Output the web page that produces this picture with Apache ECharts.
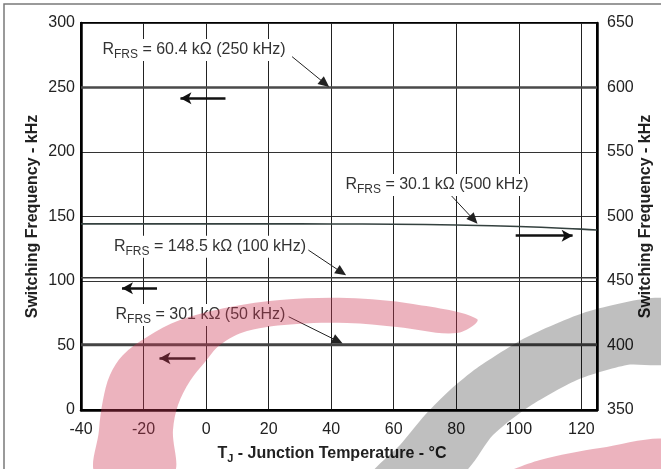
<!DOCTYPE html>
<html><head><meta charset="utf-8">
<script src="https://cdn.jsdelivr.net/npm/echarts@6/dist/echarts.min.js"></script>
<style>html,body{margin:0;padding:0;background:#fff}#c{width:661px;height:469px}</style>
</head><body><div id="c"></div>
<script>
// ---- data ----
const temperatures = [-40, -20, 0, 20, 40, 60, 80, 100, 120, 125];
const freq250 = [250, 250, 250, 250, 250, 250, 250, 250, 250, 250];      // left axis
const freq500 = [494.3, 494.3, 494.3, 494.3, 494.2, 494.0, 493.4, 492.2, 490.2, 489.5]; // right axis
const freq100 = [102.6, 102.6, 102.6, 102.6, 102.6, 102.6, 102.6, 102.6, 102.6, 102.6]; // left axis
const freq50  = [50.6, 50.6, 50.6, 50.6, 50.6, 50.6, 50.6, 50.6, 50.6, 50.6];          // left axis
const xTickLabels = [-40, -20, 0, 20, 40, 60, 80, 100, 120];
const leftTickLabels = [0, 50, 100, 150, 200, 250, 300];
const rightTickLabels = [350, 400, 450, 500, 550, 600, 650];

// annotation labels (data coords on left axis), leader start and arrow-head point
const annoText = ['60.4 kΩ (250 kHz)', '30.1 kΩ (500 kHz)', '148.5 kΩ (100 kHz)', '301 kΩ (50 kHz)'];
const annoPos  = [[-33.8, 279], [43.9, 174.4], [-30.1, 126.6], [-29.6, 73.6]];
const leaderFrom = [[27.5, 273.9], [78.2, 166.7], [32.7, 124.0], [26.4, 72.3]];
const leaderTo   = [[38.0, 253.1], [85.6, 147.5], [43.3, 106.8], [42.1, 53.4]];
// axis-direction arrows (left-axis coords)
const dirFrom = [[6.2, 241.6], [-15.7, 94.3], [-3.4, 40.1], [99.0, 135.1]];
const dirTo   = [[-8.2, 241.6], [-26.9, 94.3], [-14.9, 40.1], [117.2, 135.1]];

const FONT = 'Liberation Sans, Arial, sans-serif';
const zip = (a) => temperatures.map((t, i) => [t, a[i]]);

const markLines = [];
leaderFrom.forEach((f, i) => markLines.push([
  {coord: f, symbol: 'none', lineStyle: {color: '#222', width: 1, type: 'solid'}},
  {coord: leaderTo[i], symbol: 'triangle', symbolSize: [10, 11]}
]));
dirFrom.forEach((f, i) => markLines.push([
  {coord: f, symbol: 'none', lineStyle: {color: '#111', width: 2.5, type: 'solid'}},
  {coord: dirTo[i], symbol: 'arrow', symbolSize: [9, 11]}
]));

const markPoints = annoText.map((t, i) => ({
  coord: annoPos[i], symbolSize: 0,
  label: {
    show: true, position: 'right', distance: 0,
    formatter: '{m|R}{s|FRS}{m| = ' + t + '}',
    backgroundColor: '#fff', padding: [0, 2],
    rich: {
      m: {fontSize: 16, fontFamily: FONT, color: '#333', lineHeight: 22},
      s: {fontSize: 12, fontFamily: FONT, color: '#333', lineHeight: 10, verticalAlign: 'bottom'}
    }
  }
}));

const chart = echarts.init(document.getElementById('c'), null, {renderer: 'canvas'});
const pink = 'rgba(205,55,85,0.38)';
const gray = 'rgba(0,0,0,0.25)';
chart.setOption({
  animation: false,
  backgroundColor: '#fff',
  grid: {left: 81, right: 64, top: 23, bottom: 59, outerBoundsMode: 'none', containLabel: false,
         show: true, borderColor: '#000', borderWidth: 2, backgroundColor: 'transparent'},
  xAxis: {
    type: 'value', min: -40, max: 125, interval: 20,
    name: '{b|T}{s|J}{b| - Junction Temperature - °C}',
    nameLocation: 'middle', nameGap: 34, nameMoveOverlap: false,
    nameTextStyle: {
      padding: [0, 14, 0, 0],
      rich: {
        b: {fontSize: 16, fontWeight: 'bold', fontFamily: FONT, color: '#222', lineHeight: 20},
        s: {fontSize: 11, fontWeight: 'bold', fontFamily: FONT, color: '#222', lineHeight: 8, verticalAlign: 'bottom'}
      }
    },
    axisLine: {onZero: false, lineStyle: {color: '#000', width: 2.5}},
    axisTick: {show: false},
    splitLine: {show: true, lineStyle: {color: '#222', width: 1}},
    axisLabel: {fontSize: 16, fontFamily: FONT, color: '#222', margin: 12,
      formatter: v => xTickLabels.indexOf(v) >= 0 ? String(v) : ''}
  },
  yAxis: [{
    type: 'value', min: 0, max: 300, interval: 50, position: 'left',
    name: 'Switching Frequency - kHz', nameLocation: 'middle', nameGap: 40, nameMoveOverlap: false,
    nameTextStyle: {fontSize: 16, fontWeight: 'bold', fontFamily: FONT, color: '#222'},
    axisLine: {show: true, onZero: false, lineStyle: {color: '#000', width: 2.5}},
    axisTick: {show: false},
    splitLine: {show: true, lineStyle: {color: '#333', width: 1}},
    axisLabel: {fontSize: 16, fontFamily: FONT, color: '#222', margin: 6,
      formatter: v => leftTickLabels.indexOf(v) >= 0 ? String(v) : ''}
  }, {
    type: 'value', min: 350, max: 650, interval: 50, position: 'right',
    name: 'Switching Frequency - kHz', nameLocation: 'middle', nameGap: 41, nameMoveOverlap: false,
    nameTextStyle: {fontSize: 16, fontWeight: 'bold', fontFamily: FONT, color: '#222'},
    axisLine: {show: true, onZero: false, lineStyle: {color: '#000', width: 2.5}},
    axisTick: {show: false},
    splitLine: {show: false},
    axisLabel: {fontSize: 16, fontFamily: FONT, color: '#222', margin: 10,
      formatter: v => rightTickLabels.indexOf(v) >= 0 ? String(v) : ''}
  }],
  series: [
    {name: '250 kHz', type: 'line', yAxisIndex: 0, data: zip(freq250), showSymbol: false, z: 3,
     lineStyle: {color: '#4a4a4a', width: 2.5},
     markLine: {silent: true, animation: false, label: {show: false}, lineStyle: {type: 'solid'}, data: markLines},
     markPoint: {silent: true, animation: false, data: markPoints}},
    {name: '500 kHz', type: 'line', yAxisIndex: 1, data: zip(freq500), showSymbol: false, smooth: true,
     lineStyle: {color: '#34413f', width: 1.6}},
    {name: '100 kHz', type: 'line', yAxisIndex: 0, data: zip(freq100), showSymbol: false,
     lineStyle: {color: '#3a3a3a', width: 1.5}},
    {name: '50 kHz', type: 'line', yAxisIndex: 0, data: zip(freq50), showSymbol: false,
     lineStyle: {color: '#444', width: 3}}
  ],
  graphic: [
    {type: 'polyline', z: 50, shape: {points: [[4, 475], [4, 4], [665, 4]]}, style: {stroke: '#7a7a7a', lineWidth: 1.5, fill: null}},
    {type: 'polygon', z: 100, silent: true, shape: {smooth: 0.35, points: [
      [97, 475], [99, 430], [103, 400], [110, 375], [123, 355], [147, 337], [180, 320], [230, 307], [280, 300], [347, 298], [413, 304], [477, 319],
      [457, 333], [397, 327], [347, 323], [297, 324], [247, 331], [220, 345], [205, 362], [190, 381], [178, 405], [173, 430], [172, 475]]},
     style: {fill: pink}},
    {type: 'polygon', z: 100, silent: true, shape: {smooth: 0.25, points: [
      [372, 475], [400, 445], [425, 415], [450, 390], [477, 368], [527, 337], [593, 310], [670, 300],
      [670, 362], [627, 365], [577, 380], [527, 408], [493, 435], [460, 475]]},
     style: {fill: gray}},
    {type: 'polygon', z: 100, silent: true, shape: {smooth: 0.3, points: [
      [505, 475], [540, 460], [600, 448], [670, 440], [670, 475]]},
     style: {fill: pink}}
  ]
});
</script></body></html>
